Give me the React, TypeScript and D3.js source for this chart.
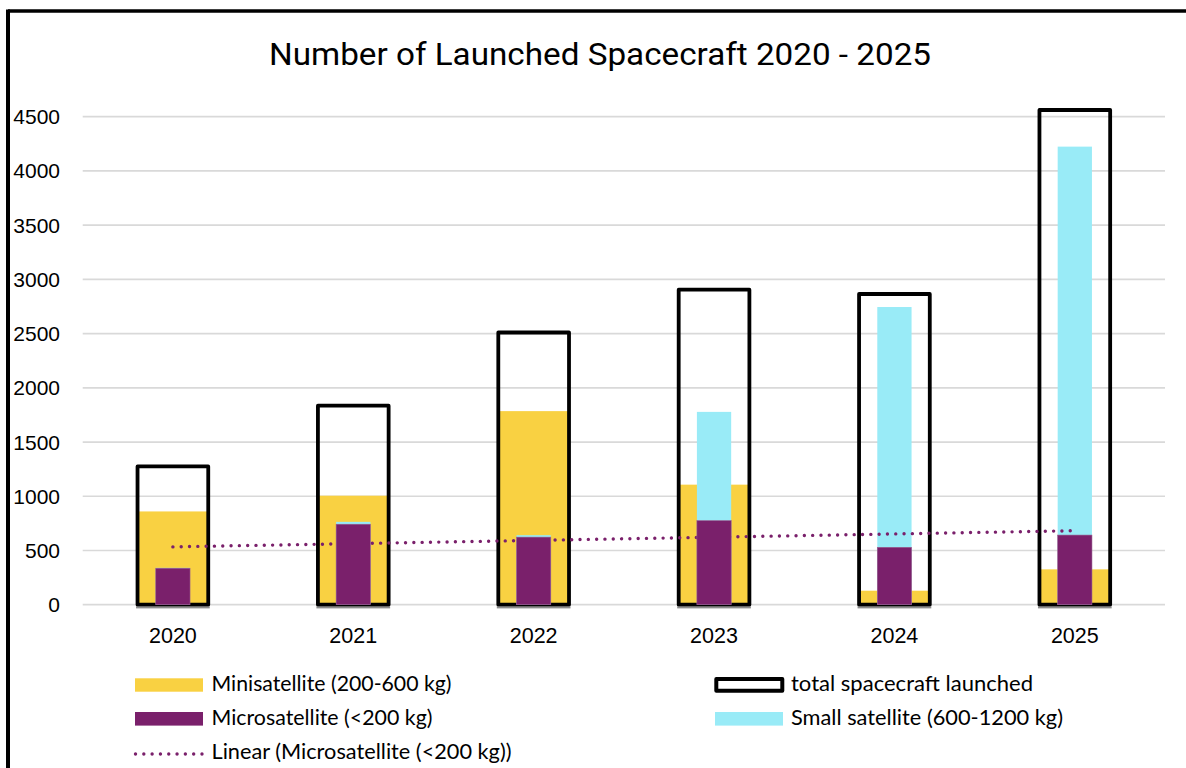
import React from 'react';
import * as d3 from 'd3';

const years = ['2020', '2021', '2022', '2023', '2024', '2025'];
const totalLaunched = [1275, 1835, 2510, 2905, 2865, 4562];
const miniSat = [860, 1005, 1785, 1107, 129, 326];
const smallSat = [340, 764, 641, 1778, 2745, 4224];
const microSat = [336, 742, 623, 775, 529, 642];
const yTicks = [0, 500, 1000, 1500, 2000, 2500, 3000, 3500, 4000, 4500];

const YELLOW = '#F9D142';
const PURPLE = '#7A206B';
const CYAN = '#99EBF7';

export default function App() {
  const W = 1186, H = 768;
  const x = d3.scaleBand<string>().domain(years).range([82.7, 1165]).padding(0);
  const y = d3.scaleLinear().domain([0, 4500]).range([604.7, 116.7]);
  const bw = x.bandwidth();
  const cx = (yr: string) => (x(yr) as number) + bw / 2;
  const outerW = bw * 0.392;
  const innerW = bw * 0.19;

  // linear trend of microsatellites
  const idx = microSat.map((_, i) => i);
  const mx = d3.mean(idx) as number;
  const my = d3.mean(microSat) as number;
  const slope = d3.sum(idx.map((i) => (i - mx) * (microSat[i] - my))) / d3.sum(idx.map((i) => (i - mx) ** 2));
  const icpt = my - slope * mx;
  const trend = idx.map((i) => [cx(years[i]), y(icpt + slope * i)] as [number, number]);
  const trendPath = d3.line()(trend) as string;

  const sans = "'Lato', 'Noto Sans', sans-serif";
  const axisFont = "'Liberation Sans', Arial, sans-serif";

  return (
    <svg width={W} height={H} style={{ position: 'absolute', left: 0, top: 0, background: '#fff' }}>
      <rect x={0} y={0} width={W} height={H} fill="#fff" />
      {/* frame */}
      <line x1={8} y1={11} x2={W + 5} y2={11} stroke="#000" strokeWidth={3.5} />
      <line x1={8} y1={9.5} x2={8} y2={H + 5} stroke="#000" strokeWidth={4} />

      {/* title */}
      <text x={600} y={65} textAnchor="middle" fontFamily="Roboto, 'Liberation Sans', sans-serif" fontWeight={400}
        fontSize={32} textLength={662} lengthAdjust="spacingAndGlyphs" fill="#000">
        Number of Launched Spacecraft 2020 - 2025
      </text>

      {/* gridlines */}
      {yTicks.map((t) => (
        <line key={t} x1={82.7} x2={1165} y1={y(t)} y2={y(t)} stroke="#d9d9d9" strokeWidth={1.7} />
      ))}
      {yTicks.map((t) => (
        <text key={'l' + t} x={60} y={y(t)} dy="0.36em" textAnchor="end" fontFamily={axisFont} fontSize={21} fill="#000">
          {t}
        </text>
      ))}
      {years.map((yr) => (
        <text key={'x' + yr} x={cx(yr)} y={643.3} textAnchor="middle" fontFamily={axisFont} fontSize={21.5} fill="#000">
          {yr}
        </text>
      ))}

      {/* minisatellite */}
      {years.map((yr, i) => (
        <rect key={'m' + yr} x={cx(yr) - outerW / 2} y={y(miniSat[i])} width={outerW} height={y(0) - y(miniSat[i])} fill={YELLOW} />
      ))}
      {/* shadow under outline */}
      {years.map((yr) => (
        <rect key={'s' + yr} x={cx(yr) - outerW / 2 - 1.5} y={y(0) + 1.9} width={outerW + 3} height={1.8} fill="#8c8c8c" />
      ))}
      {/* total outline */}
      {years.map((yr, i) => (
        <rect key={'t' + yr} x={cx(yr) - outerW / 2} y={y(totalLaunched[i])} width={outerW} height={y(0) - y(totalLaunched[i])}
          fill="none" stroke="#000" strokeWidth={3.8} strokeLinejoin="round" />
      ))}
      {/* small satellite */}
      {years.map((yr, i) => (
        <rect key={'c' + yr} x={cx(yr) - innerW / 2} y={y(smallSat[i])} width={innerW} height={y(0) - y(smallSat[i])} fill={CYAN} />
      ))}
      {/* trend */}
      <path d={trendPath} fill="none" stroke={PURPLE} strokeWidth={3.4} strokeLinecap="round" strokeDasharray="0.01 8.3" />
      {/* microsatellite */}
      {years.map((yr, i) => (
        <rect key={'p' + yr} x={cx(yr) - innerW / 2} y={y(microSat[i])} width={innerW} height={y(0) - y(microSat[i])}
          fill={PURPLE} stroke="#9a5a8c" strokeWidth={0.6} />
      ))}

      {/* legend */}
      <rect x={135} y={678.3} width={68} height={13.4} fill={YELLOW} />
      <text x={211.5} y={690.7} fontFamily={sans} fontSize={20.5} textLength={240} lengthAdjust="spacingAndGlyphs">Minisatellite (200-600 kg)</text>
      <rect x={135} y={712} width={68} height={13.6} fill={PURPLE} />
      <text x={211.5} y={724.5} fontFamily={sans} fontSize={20.5} textLength={221} lengthAdjust="spacingAndGlyphs">Microsatellite (&lt;200 kg)</text>
      <line x1={135.5} x2={202} y1={754} y2={754} stroke={PURPLE} strokeWidth={3.4} strokeLinecap="round" strokeDasharray="0.01 8.3" />
      <text x={211.5} y={758.5} fontFamily={sans} fontSize={20.5} textLength={300} lengthAdjust="spacingAndGlyphs">Linear (Microsatellite (&lt;200 kg))</text>

      <rect x={716.3} y={679} width={66} height={11.8} fill="none" stroke="#000" strokeWidth={4} strokeLinejoin="round" />
      <text x={791} y={690.7} fontFamily={sans} fontSize={20.5} textLength={242} lengthAdjust="spacingAndGlyphs">total spacecraft launched</text>
      <rect x={715} y={712} width={68} height={13.6} fill={CYAN} />
      <text x={791} y={724.5} fontFamily={sans} fontSize={20.5} textLength={272} lengthAdjust="spacingAndGlyphs">Small satellite (600-1200 kg)</text>
    </svg>
  );
}
